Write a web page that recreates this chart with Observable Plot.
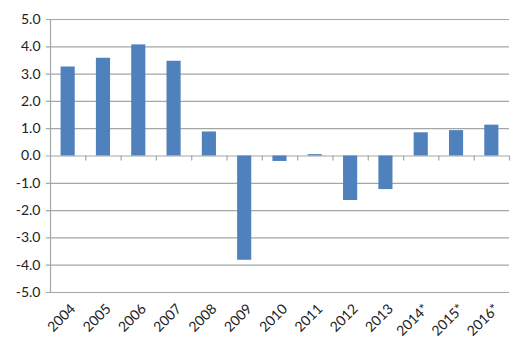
<!DOCTYPE html>
<html>
<head>
<meta charset="utf-8">
<script src="https://cdn.jsdelivr.net/npm/d3@7"></script>
<script src="https://cdn.jsdelivr.net/npm/@observablehq/plot@0.6"></script>
<style>
  html, body { margin: 0; padding: 0; background: #fff; }
  #chart svg { display: block; }
</style>
</head>
<body>
<div id="chart"></div>
<script>
const years = ["2004","2005","2006","2007","2008","2009","2010","2011","2012","2013","2014*","2015*","2016*"];
const values = [3.26, 3.58, 4.07, 3.47, 0.88, -3.82, -0.20, 0.05, -1.63, -1.23, 0.85, 0.93, 1.13];
const yTicks = [-5, -4, -3, -2, -1, 0, 1, 2, 3, 4, 5];

const data = years.map((y, i) => ({ i, year: y, value: values[i] }));
const barHalf = 0.2;
const boundaries = years.map((_, i) => i + 0.5);

const chart = Plot.plot({
  width: 528,
  height: 354,
  marginLeft: 50,
  marginRight: 19,
  marginTop: 19,
  marginBottom: 62,
  style: { fontFamily: "Lato, 'Open Sans', sans-serif", fontSize: "14px", color: "#222", background: "#fff" },
  x: { type: "linear", domain: [-0.5, years.length - 0.5], label: null },
  y: { domain: [-5, 5], label: null },
  marks: [
    Plot.ruleY(yTicks, { stroke: "#a6a6a6", strokeWidth: 1.2, x1: -0.5, x2: years.length - 0.5, insetLeft: -4 }),
    Plot.ruleX([-0.5], { y1: -5, y2: 5, stroke: "#a6a6a6", strokeWidth: 1.2 }),
    Plot.ruleX(boundaries, { x: d => d, y1: 0, y2: 0, insetBottom: -5, stroke: "#a6a6a6", strokeWidth: 1.2 }),
    Plot.rectY(data, { x1: d => d.i - barHalf, x2: d => d.i + barHalf, y1: 0, y2: "value", fill: "#4f81bd" }),
    Plot.axisY({ ticks: yTicks, tickFormat: d => d.toFixed(1), tickSize: 0, tickPadding: 10, fontSize: 14, fill: "#222", label: null }),
    Plot.axisX({ ticks: years.map((_, i) => i), tickFormat: i => years[i], tickSize: 0, tickRotate: -45, tickPadding: 14, fontSize: 14, fill: "#222", dx: 5, textAnchor: "end", label: null })
  ]
});
document.getElementById("chart").appendChild(chart);
</script>
</body>
</html>
